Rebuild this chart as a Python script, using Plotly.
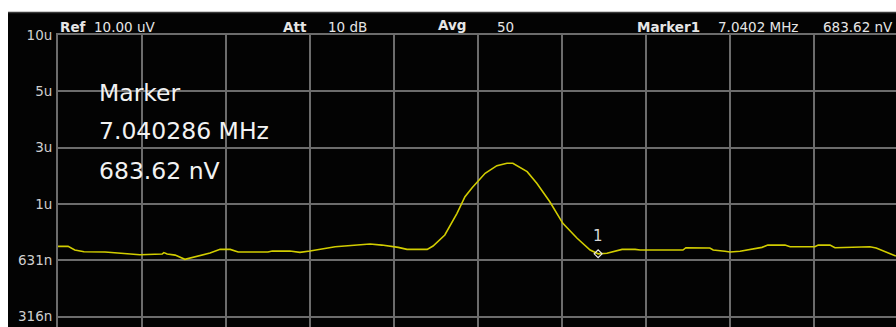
import plotly.graph_objects as go

# Spectrum trace: frequency (Hz) and averaged amplitude (nV)
freq_hz = [
    7039000, 7039024, 7039040, 7039062, 7039112, 7039160, 7039195, 7039248,
    7039252, 7039260, 7039279, 7039302, 7039326, 7039362, 7039386, 7039410,
    7039429, 7039500, 7039510, 7039552, 7039576, 7039600, 7039660, 7039695,
    7039743, 7039771, 7039810, 7039831, 7039879, 7039893, 7039921, 7039950,
    7039969, 7039986, 7040017, 7040045, 7040069, 7040083, 7040117, 7040140,
    7040171, 7040202, 7040236, 7040267, 7040286, 7040307, 7040319, 7040343,
    7040374, 7040386, 7040488, 7040495, 7040552, 7040560, 7040588, 7040600,
    7040624, 7040648, 7040676, 7040690, 7040731, 7040743, 7040802, 7040810,
    7040838, 7040850, 7040898, 7040933, 7040948, 7040969, 7040995,
]
amp_nv = [
    749, 749, 716, 701, 699, 682, 676, 682,
    694, 682, 673, 639, 657, 690, 722, 722,
    699, 699, 707, 707, 696, 707, 746, 755,
    771, 761, 740, 722, 722, 752, 861, 1123,
    1377, 1538, 1835, 2014, 2074, 2074, 1872, 1623,
    1295, 994, 827, 716, 683.62, 688, 701, 722,
    722, 716, 716, 737, 734, 716, 705, 699,
    705, 722, 740, 761, 761, 746, 746, 761,
    761, 737, 740, 746, 734, 705, 665,
]

# Marker 1 readout
marker_freq_hz = 7040286
marker_amp_nv = 683.62

# Display settings: 200 Hz/div starting at 7.039 MHz, 6 dB/div log amplitude
x_grid_hz = [7039000 + 200 * i for i in range(11)]
y_tick_vals = [10e-6, 5.012e-6, 2.512e-6, 1.259e-6, 631e-9, 316e-9]
y_tick_text = ["10u", "5u", "3u", "1u", "631n", "316n"]

W, H = 896, 327
ML, MT = 58, 35
PW, PH = W - ML, H - MT


def px(x):
    return (x - ML) / PW


def py(y):
    return (H - y) / PH


amp_v = [a * 1e-9 for a in amp_nv]

fig = go.Figure()
fig.add_trace(go.Scatter(
    x=freq_hz, y=amp_v, mode="lines",
    line=dict(color="#d2cd00", width=1.6),
    hoverinfo="skip", showlegend=False,
))
fig.add_trace(go.Scatter(
    x=[marker_freq_hz], y=[marker_amp_nv * 1e-9], mode="markers",
    marker=dict(symbol="diamond-open", size=6, color="#e8e8e8", line=dict(width=1.2)),
    hoverinfo="skip", showlegend=False,
))

grid = "#6c6c6c"
fig.update_xaxes(
    range=[7039000, 7039000 + 200 * PW / 84],
    tickvals=x_grid_hz, showticklabels=False, ticks="",
    showgrid=True, gridcolor=grid, gridwidth=2,
    zeroline=False, showline=True, side="top", linecolor=grid, linewidth=2,
)
fig.update_yaxes(
    type="log", autorange=False, range=[-5 - 0.3 * PH / 56.34, -5],
    tickvals=y_tick_vals, ticktext=y_tick_text, ticks="",
    tickfont=dict(family="DejaVu Sans", size=13.5, color="#cfcfcf"),
    ticklabelstandoff=1,
    showgrid=True, gridcolor=grid, gridwidth=2,
    zeroline=False, showline=True, linecolor=grid, linewidth=2,
)

annotations = [
    # marker number above the marker symbol
    dict(text="1", xref="x", yref="y", x=marker_freq_hz,
         y=-5 - 0.3 * (236 - MT) / 56.34, xanchor="center", yanchor="middle",
         showarrow=False, font=dict(family="DejaVu Sans", size=15, color="#d8d8d8")),
]
hdr = [
    ("<b>Ref</b>", 58, 27), ("10.00 uV", 92, 27),
    ("<b>Att</b>", 281, 27), ("10 dB", 326, 27),
    ("<b>Avg</b>", 436, 25), ("50", 495, 27),
    ("<b>Marker1</b>", 635, 27), ("7.0402 MHz", 716, 27), ("683.62 nV", 821, 27),
]
for txt, x, y in hdr:
    annotations.append(dict(
        text=txt, xref="paper", yref="paper", x=px(x), y=py(y),
        xanchor="left", yanchor="middle", showarrow=False,
        font=dict(family="DejaVu Sans", size=13.5, color="#e6e6e6"),
    ))

big = [("Marker", 93), ("7.040286 MHz", 131), ("683.62 nV", 171)]
for txt, y in big:
    annotations.append(dict(
        text=txt, xref="paper", yref="paper", x=px(97), y=py(y),
        xanchor="left", yanchor="middle", showarrow=False,
        font=dict(family="DejaVu Sans", size=23.5, color="#f2f2f2"),
    ))

shapes = [
    # white border strips around the instrument screen
    dict(type="rect", xref="paper", yref="paper", x0=px(0), x1=1.01, y0=py(12), y1=py(0),
         fillcolor="white", line=dict(width=0), layer="above"),
    dict(type="rect", xref="paper", yref="paper", x0=px(0), x1=px(8), y0=py(330), y1=py(0),
         fillcolor="white", line=dict(width=0), layer="above"),
    dict(type="line", xref="paper", yref="paper", x0=px(8), x1=1.01, y0=py(12.5), y1=py(12.5),
         line=dict(color="#3a3a3a", width=1.5), layer="above"),
]

fig.update_layout(
    width=W, height=H,
    margin=dict(l=ML, r=0, t=MT, b=0, pad=0),
    paper_bgcolor="#030303", plot_bgcolor="#030303",
    annotations=annotations, shapes=shapes,
    showlegend=False,
)

fig.write_html("out.html")
